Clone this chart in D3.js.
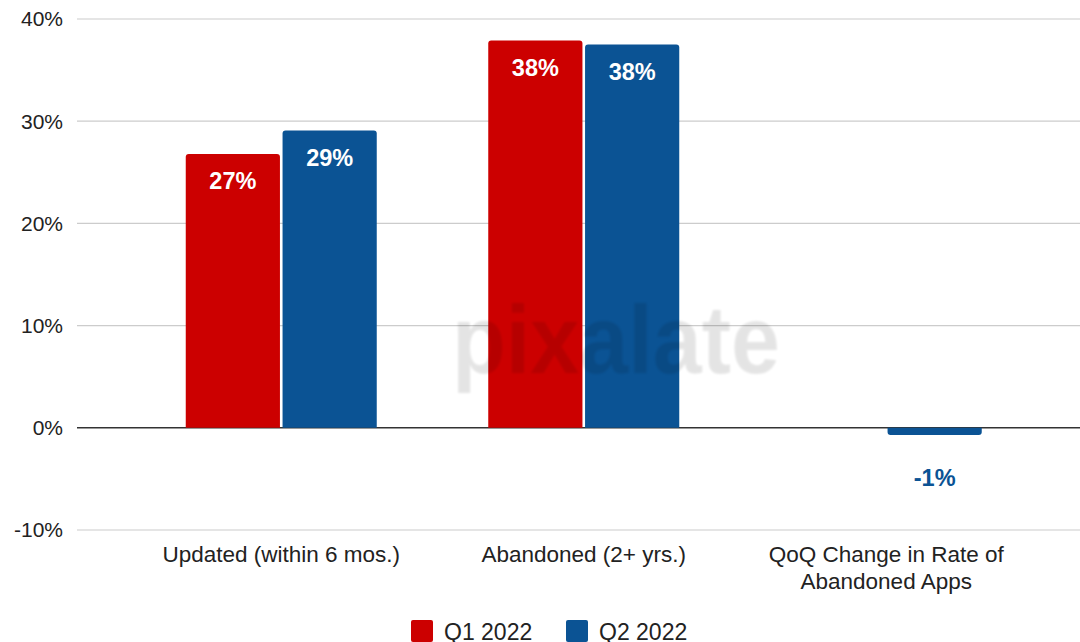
<!DOCTYPE html>
<html>
<head>
<meta charset="utf-8">
<script src="https://cdn.jsdelivr.net/npm/d3@7"></script>
<style>
  body { margin: 0; background: #fff; }
  text { font-family: "Liberation Sans", Arial, sans-serif; }
</style>
</head>
<body>
<div id="chart"></div>
<script>
// data
const categories = [["Updated (within 6 mos.)"], ["Abandoned (2+ yrs.)"], ["QoQ Change in Rate of", "Abandoned Apps"]];
const seriesNames = ["Q1 2022", "Q2 2022"];
const q1Values = [26.8, 37.9, null];
const q2Values = [29.1, 37.5, -0.7];
const q1Labels = ["27%", "38%", ""];
const q2Labels = ["29%", "38%", "-1%"];
const yTicks = [-10, 0, 10, 20, 30, 40];

const width = 1080, height = 642;
const colors = ["#cc0000", "#0b5394"];

const svg = d3.select("#chart").append("svg")
    .attr("width", width)
    .attr("height", height);

const y = d3.scaleLinear().domain([-10, 40]).range([530, 19]);

const x0 = d3.scaleBand()
    .domain(d3.range(categories.length))
    .range([130, 1037.5])
    .paddingInner(0)
    .paddingOuter(0);

const x1 = d3.scaleBand()
    .domain(d3.range(seriesNames.length))
    .range([0, 191])
    .paddingInner(0.027);

const groupOffset = (x0.bandwidth() - 191) / 2;

// grid lines
svg.append("g")
    .selectAll("line")
    .data(yTicks)
    .join("line")
    .attr("x1", 77)
    .attr("x2", width)
    .attr("y1", d => y(d))
    .attr("y2", d => y(d))
    .attr("stroke", d => d === 0 ? "#333" : "#cccccc")
    .attr("stroke-width", d => d === 0 ? 1.5 : 1.2);

// y labels
svg.append("g")
    .selectAll("text")
    .data(yTicks)
    .join("text")
    .attr("x", 63)
    .attr("y", d => y(d))
    .attr("dy", "0.35em")
    .attr("text-anchor", "end")
    .attr("font-size", 21)
    .attr("fill", "#222")
    .text(d => d + "%");

// bars with rounded outer end
function barPath(x, w, v) {
    const r = 3;
    const y0 = y(0), y1 = y(v);
    if (v >= 0) {
        return `M${x},${y0}V${y1 + r}Q${x},${y1} ${x + r},${y1}H${x + w - r}Q${x + w},${y1} ${x + w},${y1 + r}V${y0}Z`;
    }
    return `M${x},${y0}V${y1 - r}Q${x},${y1} ${x + r},${y1}H${x + w - r}Q${x + w},${y1} ${x + w},${y1 - r}V${y0}Z`;
}

const series = [q1Values, q2Values];
const labels = [q1Labels, q2Labels];

const bars = [];
series.forEach((vals, s) => {
    vals.forEach((v, i) => {
        if (v === null) return;
        bars.push({ s, i, v, label: labels[s][i] });
    });
});

svg.append("g")
    .selectAll("path")
    .data(bars)
    .join("path")
    .attr("d", d => barPath(x0(d.i) + groupOffset + x1(d.s), x1.bandwidth(), d.v))
    .attr("fill", d => colors[d.s]);

// value labels
svg.append("g")
    .selectAll("text")
    .data(bars)
    .join("text")
    .attr("x", d => x0(d.i) + groupOffset + x1(d.s) + x1.bandwidth() / 2)
    .attr("y", d => d.v >= 0 ? y(d.v) + 27 : y(d.v) + 43)
    .attr("dy", "0.35em")
    .attr("text-anchor", "middle")
    .attr("font-family", "Roboto, sans-serif")
    .attr("font-weight", "bold")
    .attr("font-size", 23.5)
    .attr("fill", d => d.v >= 0 ? "#fff" : colors[d.s])
    .text(d => d.label);

// watermark
svg.append("defs").append("filter")
    .attr("id", "blur")
    .append("feGaussianBlur")
    .attr("stdDeviation", 1.2);

svg.append("text")
    .attr("x", 452)
    .attr("y", 373)
    .attr("font-family", "Lato, sans-serif")
    .attr("font-weight", "bold")
    .attr("font-size", 96)
    .attr("textLength", 328)
    .attr("lengthAdjust", "spacingAndGlyphs")
    .attr("fill", "#000")
    .attr("opacity", 0.1)
    .attr("filter", "url(#blur)")
    .text("pixalate");

// x labels
const xLab = svg.append("g")
    .selectAll("text")
    .data(categories)
    .join("text")
    .attr("x", (d, i) => x0(i) + x0.bandwidth() / 2)
    .attr("y", 562)
    .attr("text-anchor", "middle")
    .attr("font-size", 22.5)
    .attr("fill", "#222");

xLab.selectAll("tspan")
    .data(d => d)
    .join("tspan")
    .attr("x", function () { return this.parentNode.getAttribute("x"); })
    .attr("dy", (d, i) => i === 0 ? 0 : 27)
    .text(d => d);

// legend
const legendX = [411, 566];
const legend = svg.append("g")
    .selectAll("g")
    .data(seriesNames)
    .join("g")
    .attr("transform", (d, i) => `translate(${legendX[i]},620)`);

legend.append("rect")
    .attr("width", 22)
    .attr("height", 22)
    .attr("rx", 2)
    .attr("fill", (d, i) => colors[i]);

legend.append("text")
    .attr("x", 33)
    .attr("y", 12)
    .attr("dy", "0.35em")
    .attr("font-size", 23)
    .attr("fill", "#222")
    .text(d => d);
</script>
</body>
</html>
